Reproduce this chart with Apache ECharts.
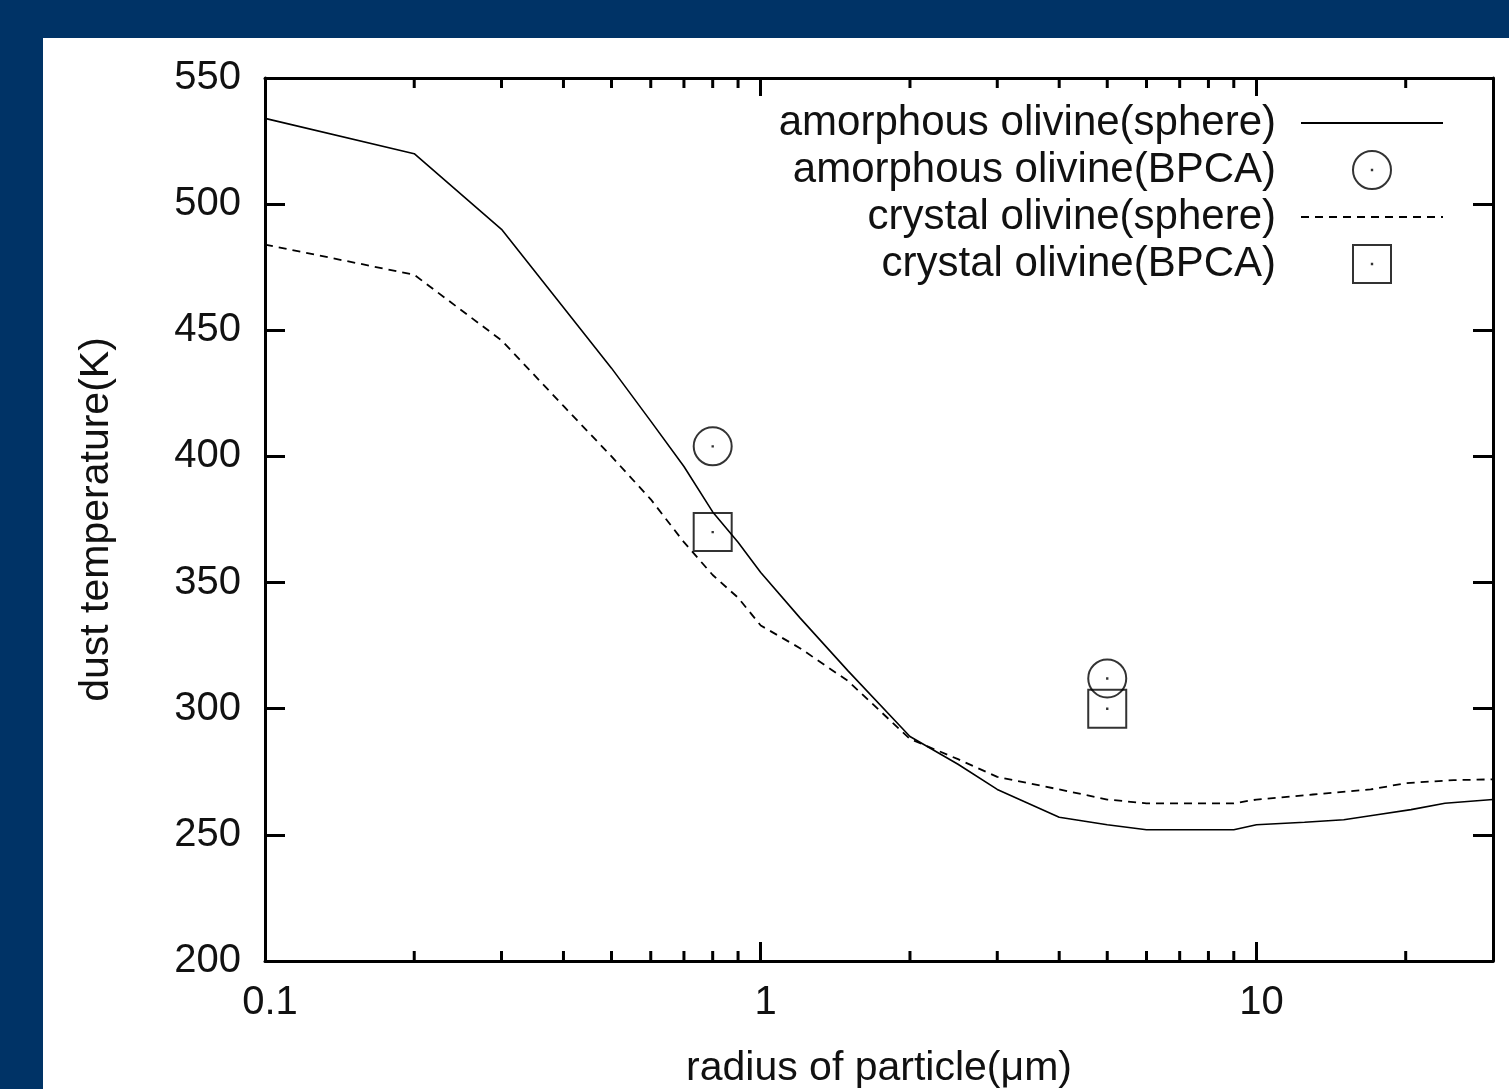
<!DOCTYPE html>
<html>
<head>
<meta charset="utf-8">
<title>dust temperature</title>
<script src="https://cdn.jsdelivr.net/npm/echarts@6/dist/echarts.min.js"></script>
<style>
    html, body { margin: 0; padding: 0; background: #003366; }
    #main { position: absolute; left: 43px; top: 38px; width: 1466px; height: 1051px; background: #fff; }
</style>
</head>
<body>
<div id="main"></div>
<script>
// amorphous olivine, sphere
var radiusAmorphous = [0.1, 0.2, 0.3, 0.4, 0.5, 0.6, 0.7, 0.8, 0.9, 1, 1.2, 1.5, 2, 2.5, 3, 4, 5, 6, 9, 10, 12.5, 15, 17.5, 20.5, 24, 30];
var tempAmorphous = [534, 520, 490, 459, 435, 414, 396, 378, 366, 354, 336, 315, 289, 278, 268, 257, 254, 252, 252, 254, 255, 256, 258, 260, 262.5, 264];
// crystal olivine, sphere
var radiusCrystal = [0.1, 0.2, 0.3, 0.4, 0.5, 0.6, 0.7, 0.8, 0.9, 1, 1.2, 1.5, 2, 2.5, 3, 4, 5, 6, 9, 10, 13, 17, 20, 25, 30];
var tempCrystal = [484, 472, 446, 420, 400, 383, 366, 353, 344, 333, 324, 311, 288, 280, 273, 268, 264, 262.5, 262.5, 264, 266, 268, 270.5, 271.7, 272];
// BPCA points
var radiusBpca = [0.8, 5];
var tempAmorphousBpca = [404, 312];
var tempCrystalBpca = [370, 300];
// axes
var xMin = 0.1, xMax = 30;
var yMin = 200, yMax = 550, yStep = 50;
var xMinorTicks = [0.2, 0.3, 0.4, 0.5, 0.6, 0.7, 0.8, 0.9, 2, 3, 4, 5, 6, 7, 8, 9, 20];

var names = ['amorphous olivine(sphere)', 'amorphous olivine(BPCA)', 'crystal olivine(sphere)', 'crystal olivine(BPCA)'];

var font = 'Liberation Sans, Arial, sans-serif';
var ink = '#111';
var circleIcon = 'path://M0,20A20,20,0,1,1,40,20A20,20,0,1,1,0,20ZM19.8,19.8L20.2,19.8L20.2,20.2L19.8,20.2Z';
var squareIcon = 'path://M0,0L40,0L40,40L0,40ZM19.8,19.8L20.2,19.8L20.2,20.2L19.8,20.2Z';

function pairs(xs, ys) {
    var out = [];
    for (var i = 0; i < xs.length; i++) {
        out.push([xs[i], ys[i]]);
    }
    return out;
}

// gnuplot style minor ticks on the log axis, top and bottom
function renderMinor(params, api) {
    var b = api.coord([api.value(0), yMin]);
    var t = api.coord([api.value(0), yMax]);
    return {
        type: 'group',
        children: [
            { type: 'line', shape: { x1: b[0], y1: b[1], x2: b[0], y2: b[1] - 10 }, style: { stroke: '#000', lineWidth: 3 } },
            { type: 'line', shape: { x1: t[0], y1: t[1], x2: t[0], y2: t[1] + 10 }, style: { stroke: '#000', lineWidth: 3 } }
        ]
    };
}

var myChart = echarts.init(document.getElementById('main'));

var hollow = { color: 'rgba(0,0,0,0)', borderColor: '#000', borderWidth: 2 };

var option = {
    backgroundColor: 'rgba(0,0,0,0)',
    animation: false,
    textStyle: { fontFamily: font },
    grid: { left: 222, top: 40, right: 16, bottom: 128, outerBoundsMode: 'none', containLabel: false },
    legend: {
        orient: 'vertical',
        align: 'right',
        right: 60,
        top: 59,
        itemWidth: 142,
        itemHeight: 38,
        itemGap: 5,
        symbolKeepAspect: true,
        selectedMode: false,
        textStyle: { fontFamily: font, fontSize: 42, color: ink, lineHeight: 38, padding: [0, 20, 0, 0] },
        data: [
            { name: names[0], itemStyle: { opacity: 0 } },
            { name: names[1], icon: circleIcon, itemStyle: hollow },
            { name: names[2], itemStyle: { opacity: 0 } },
            { name: names[3], icon: squareIcon, itemStyle: hollow }
        ]
    },
    xAxis: [{
        type: 'log',
        logBase: 10,
        min: xMin,
        max: xMax,
        position: 'bottom',
        name: 'radius of particle(\u03bcm)',
        nameLocation: 'middle',
        nameGap: 87,
        nameTextStyle: { fontFamily: font, fontSize: 41, color: ink, lineHeight: 41 },
        axisLine: { lineStyle: { color: '#000', width: 3 } },
        axisTick: { inside: true, length: 19, lineStyle: { color: '#000', width: 3 } },
        axisLabel: {
            fontFamily: font, fontSize: 40, color: ink, lineHeight: 40, margin: 22,
            padding: [0, 0, 0, 10],
            showMaxLabel: false,
            formatter: function (v) { return String(+v.toPrecision(3)); }
        },
        splitLine: { show: false }
    }, {
        type: 'log',
        logBase: 10,
        min: xMin,
        max: xMax,
        position: 'top',
        axisLine: { lineStyle: { color: '#000', width: 3 } },
        axisTick: { inside: true, length: 18, lineStyle: { color: '#000', width: 3 } },
        axisLabel: { show: false },
        splitLine: { show: false }
    }],
    yAxis: [{
        type: 'value',
        min: yMin,
        max: yMax,
        interval: yStep,
        position: 'left',
        name: 'dust temperature(K)',
        nameLocation: 'middle',
        nameGap: 148,
        nameTextStyle: { fontFamily: font, fontSize: 41, color: ink, lineHeight: 41 },
        axisLine: { show: true, lineStyle: { color: '#000', width: 3 } },
        axisTick: { show: true, inside: true, length: 20, lineStyle: { color: '#000', width: 3 } },
        axisLabel: { fontFamily: font, fontSize: 40, color: ink, margin: 24 },
        splitLine: { show: false }
    }, {
        type: 'value',
        min: yMin,
        max: yMax,
        interval: yStep,
        position: 'right',
        axisLine: { show: true, lineStyle: { color: '#000', width: 3 } },
        axisTick: { show: true, inside: true, length: 20, lineStyle: { color: '#000', width: 3 } },
        axisLabel: { show: false },
        splitLine: { show: false }
    }],
    series: [{
        name: names[0],
        type: 'line',
        symbol: 'none',
        data: pairs(radiusAmorphous, tempAmorphous),
        lineStyle: { color: '#000', width: 1.6, type: 'solid' },
        itemStyle: { color: '#000' },
        z: 3
    }, {
        name: names[1],
        type: 'scatter',
        symbol: circleIcon,
        symbolSize: 38,
        symbolKeepAspect: true,
        data: pairs(radiusBpca, tempAmorphousBpca),
        itemStyle: hollow,
        z: 4
    }, {
        name: names[2],
        type: 'line',
        symbol: 'none',
        data: pairs(radiusCrystal, tempCrystal),
        lineStyle: { color: '#000', width: 1.8, type: [8, 6] },
        itemStyle: { color: '#000' },
        z: 3
    }, {
        name: names[3],
        type: 'scatter',
        symbol: squareIcon,
        symbolSize: 38,
        symbolKeepAspect: true,
        data: pairs(radiusBpca, tempCrystalBpca),
        itemStyle: hollow,
        z: 4
    }, {
        name: 'minor ticks',
        type: 'custom',
        silent: true,
        clip: false,
        renderItem: renderMinor,
        data: xMinorTicks.map(function (v) { return [v, yMin]; }),
        z: 5
    }]
};

myChart.setOption(option);
</script>
</body>
</html>
